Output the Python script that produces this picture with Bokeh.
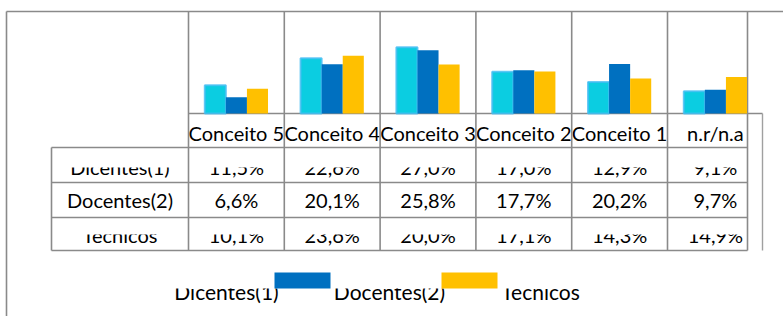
from bokeh.plotting import figure
from bokeh.models import Range1d, ColumnDataSource
from bokeh.transform import dodge
from bokeh.embed import file_html
from bokeh.resources import INLINE
from bokeh.core.properties import value

# ---------------- data ----------------
categories = ["Conceito 5", "Conceito 4", "Conceito 3", "Conceito 2", "Conceito 1", "n.r/n.a"]
series = ["Dicentes(1)", "Docentes(2)", "Tecnicos"]
dicentes = [11.5, 22.6, 27.0, 17.0, 12.9, 9.1]
docentes = [6.6, 20.1, 25.8, 17.7, 20.2, 9.7]
tecnicos = [10.1, 23.6, 20.0, 17.1, 14.3, 14.9]
colors = ["#0BCDE1", "#0070C0", "#FFC000"]

# ---------------- layout constants (page pixels) ----------------
W, H = 783, 316
OX, OY = 0, 0
X0, CW = 188.0, 95.8      # left edge of first category cell, cell width
BASE, PPU = 113.0, 2.45   # bar baseline, pixels per percent
FONT = value("Lato")
GRID = "#8a8a8a"
TS = 7                    # text baseline correction

p = figure(width=W, height=H, output_backend="svg", toolbar_location=None,
           x_range=Range1d(OX, OX + W), y_range=Range1d(OY + H, OY),
           x_axis_location=None, y_axis_location=None,
           min_border=0, min_border_left=0, min_border_right=0,
           min_border_top=0, min_border_bottom=0)
p.grid.visible = False
p.outline_line_color = None
p.background_fill_color = "white"
p.border_fill_color = "white"

p.extra_x_ranges = {"cat": Range1d((OX - X0) / CW, (OX + W - X0) / CW)}
p.extra_y_ranges = {"pct": Range1d((BASE - (OY + H)) / PPU, (BASE - OY) / PPU)}

fmt = lambda v: f"{v:.1f}".replace(".", ",") + "%"
src = ColumnDataSource(dict(
    x=[i + 0.5 for i in range(len(categories))],
    cat=categories,
    d=dicentes, o=docentes, t=tecnicos,
    dl=[fmt(v) for v in dicentes],
    ol=[fmt(v) for v in docentes],
    tl=[fmt(v) for v in tecnicos],
))

txt = dict(text_font=FONT, text_font_size="20px", text_align="center",
           text_baseline="alphabetic", text_color="#000000")

# category labels
p.text(x="x", y=139 - TS, text="cat", source=src, x_range_name="cat", **txt)

# table rows
row_base = [173.5, 206.5, 241.0]
row_cols = ["dl", "ol", "tl"]
for name, yb, col in zip(series, row_base, row_cols):
    p.text(x=[119.5], y=[yb - TS], text=[name], **txt)
    p.text(x="x", y=yb - TS, text=col, source=src, x_range_name="cat", **txt)

# legend labels
leg_x = [226, 389, 540]
for name, lx in zip(series, leg_x):
    p.text(x=[lx], y=[298 - TS], text=[name], text_font=FONT, text_font_size="21px",
           text_align="center", text_baseline="alphabetic", text_color="#000000")

# clipping masks (rendering cut-offs)
p.quad(left=[52, 52, 150], right=[746, 746, 620], top=[148, 218, 252],
       bottom=[167, 234, 288], fill_color="white", line_color=None)

# grid / table lines
xs_b = [X0 + CW * k for k in range(6)]
seg_x0, seg_y0, seg_x1, seg_y1 = [], [], [], []
def seg(a, b, c, d):
    seg_x0.append(a); seg_y0.append(b); seg_x1.append(c); seg_y1.append(d)
seg(6, 11, OX + W, 11)
seg(6, 11, 6, OY + H)
for xb in xs_b + [747]:
    seg(xb, 11, xb, 250)
seg(X0, BASE, 762, BASE)
for yl in [147, 182, 217, 250]:
    seg(51, yl, 747, yl)
seg(51, 147, 51, 250)
p.segment(x0=seg_x0, y0=seg_y0, x1=seg_x1, y1=seg_y1, line_color=GRID, line_width=1.6)
p.segment(x0=[762], y0=[BASE], x1=[762], y1=[250], line_color="#a0a0a0", line_width=1.4)

# legend swatches (Docentes, Tecnicos)
p.quad(left=[274, 441], right=[330, 497], top=[272, 272], bottom=[288, 288],
       fill_color=colors[1:], line_color=None)

# bars
offs = [-0.22, 0.0, 0.22]
for col, off, c in zip(["d", "o", "t"], offs, colors):
    kw = dict(line_color=None)
    if col == "d":
        kw = dict(line_color="#45BDF2", line_width=2, line_alpha=0.8)
    p.vbar(x=dodge("x", off), top=col, bottom=0, width=0.22, source=src,
           x_range_name="cat", y_range_name="pct", fill_color=c, **kw)

open("out.html", "w").write(file_html(p, INLINE))
